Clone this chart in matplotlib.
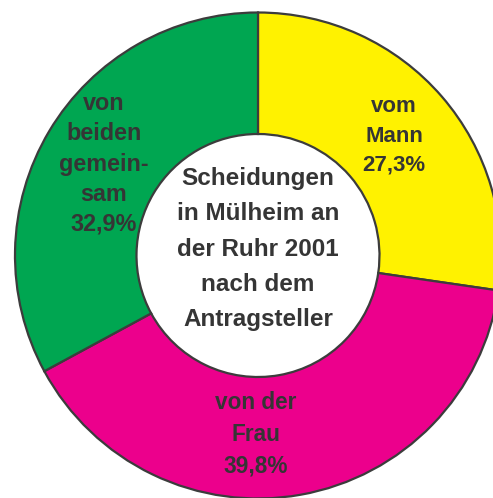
import matplotlib
matplotlib.use("Agg")
import matplotlib.pyplot as plt

categories = ["vom\nMann", "von der\nFrau", "von\nbeiden\ngemein-\nsam"]
values = [27.3, 39.8, 32.9]
value_labels = ["27,3%", "39,8%", "32,9%"]
colors = ["#FFF200", "#EC008C", "#00A651"]
title_text = "Scheidungen\nin Mülheim an\nder Ruhr 2001\nnach dem\nAntragsteller"

W, H = 493, 498
fig = plt.figure(figsize=(W / 100, H / 100), dpi=100)
ax = fig.add_axes([0, 0, 1, 1])

cx, cy = 258, H - 255.5
R = 243
wedges, _ = ax.pie(values, colors=colors, startangle=90, counterclock=False,
                   radius=R, center=(cx, cy),
                   wedgeprops=dict(width=R - 121.5, edgecolor="#3c3c3c", linewidth=1.6))
ax.set_xlim(0, W)
ax.set_ylim(0, H)
ax.set_aspect("auto")
ax.axis("off")

txt = "#353535"
font = dict(family="Liberation Sans", weight="bold", color=txt, ha="center", va="center")
label_pos = [(394, 136), (256, 434), (104, 164)]
label_sizes = [16, 16.3, 16.8]
label_spacing = [1.52, 1.49, 1.39]
for cat, vl, (x, y), fs, ls in zip(categories, value_labels, label_pos, label_sizes, label_spacing):
    ax.text(x, H - y, cat + "\n" + vl, fontsize=fs, linespacing=ls, **font)

ax.text(cx, H - 249, title_text, fontsize=17.5, linespacing=1.68, **font)

fig.savefig("out.png", dpi=100)
